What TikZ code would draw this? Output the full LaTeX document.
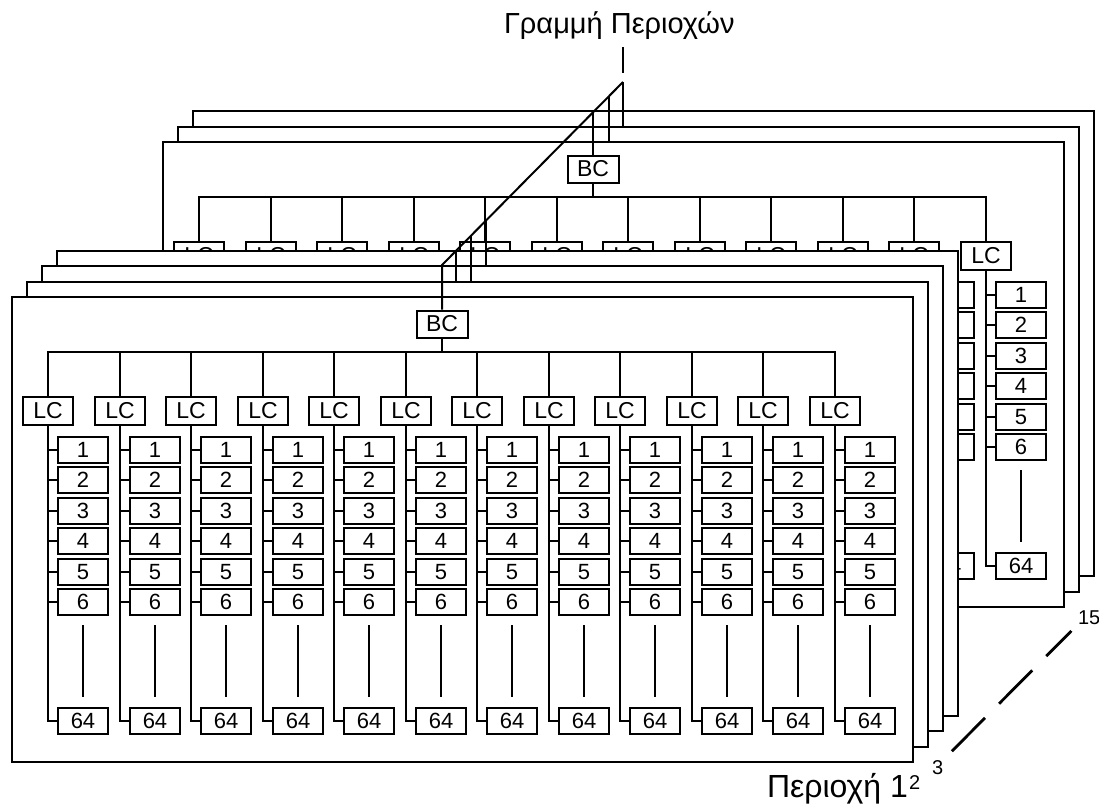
\documentclass[tikz,border=0pt]{standalone}
\usepackage{fontspec}
\setmainfont{Liberation Sans}
\usetikzlibrary{positioning}

\begin{document}
\begin{tikzpicture}[x=1pt,y=-1pt,line width=2pt,
 frame/.style={draw,fill=white},
 unitbox/.style={draw,fill=white,minimum width=50pt,minimum height=26pt,inner sep=0pt,font=\fontsize{22}{22}\selectfont},
 lcbox/.style={unitbox,minimum height=28pt,font=\fontsize{23}{23}\selectfont},
 bcbox/.style={lcbox,minimum width=51pt,minimum height=27pt},
 lbl/.style={inner sep=0pt,anchor=base west}]
 \useasboundingbox (0,0) rectangle (1099,803);
 % back stack (3 sheets), then front stack (4 sheets)
 \foreach \g/\sx/\sy/\nf/\ufirst in {b/151/-155/2/11, f/0/0/3/1}{
  \begin{scope}[shift={(\sx,\sy)}]
   \foreach \k in {\nf,...,0}
    \draw[frame] (12+15*\k,297-15.5*\k) coordinate (\g-fr\k) rectangle ++(901,465);
   \node[bcbox] (\g-bc) at (442,324) {BC};
   \coordinate (\g-bus) at (442,352);
   \draw (\g-bc) -- (\g-bc |- \g-bus);
   \foreach \i in {1,...,12}{
    \pgfmathsetmacro\cx{round(48+71.5*(\i-1))}
    \node[lcbox] (\g-lc\i) at (\cx,411) {LC};
    \ifnum\i<\ufirst\relax\else
     \node[unitbox] (\g-u\i-64) at (\cx+35,721) {64};
     \draw (\g-lc\i) |- (\g-u\i-64);
     \foreach \k/\uy in {1/450,2/480,3/511,4/541,5/572,6/602}{
      \node[unitbox] (\g-u\i-\k) at (\cx+35,\uy) {\k};
      \draw (\g-u\i-\k.west) -- (\g-u\i-\k.west -| \g-lc\i.south);
     }
     \draw[shorten <=9pt,shorten >=10pt] (\g-u\i-6) -- (\g-u\i-64);
    \fi
   }
   \draw (\g-lc1) |- (\g-bus) -| (\g-lc12);
   \foreach \i in {2,...,11} \draw (\g-lc\i) -- (\g-lc\i |- \g-bus);
  \end{scope}
 }
 % region line
 \node[lbl,font=\fontsize{29}{29}\selectfont] (title) at (503,33) {Γραμμή Περιοχών};
 \coordinate (tick-top) at (623,47);
 \coordinate (tick-bot) at (623,73);
 \draw (tick-top) -- (tick-bot);
 \coordinate (apex) at (623,82);
 \coordinate (diag-end) at (442,265);
 \draw (apex) -- (diag-end) -- (f-bc);
 \path (apex) -- (diag-end) coordinate[pos=0.077] (d1) coordinate[pos=0.166] (d2)
  coordinate[pos=0.757] (d3) coordinate[pos=0.84] (d4) coordinate[pos=0.923] (d5);
 \draw (apex) -- (apex |- b-fr1);
 \draw (d1) -- (d1 |- b-fr0);
 \draw (d2) -- (d2 |- b-bc.north);
 \draw (d3) -- (d3 |- f-fr2);
 \draw (d4) -- (d4 |- f-fr1);
 \draw (d5) -- (d5 |- f-fr1);
 % region numbering
 \node[lbl,font=\fontsize{32}{32}\selectfont] (reg1) at (766,797) {Περιοχή 1};
 \node[lbl,font=\fontsize{20}{20}\selectfont] (reg2) at (908,789) {2};
 \node[lbl,font=\fontsize{20}{20}\selectfont] (reg3) at (931,774) {3};
 \node[lbl,font=\fontsize{20}{20}\selectfont] (reg15) at (1077,624) {15};
 \draw[line width=2.8pt,dash pattern=on 47pt off 20pt,shorten <=11pt,shorten >=8pt]
  (reg3.north east) -- (reg15.south west);
\end{tikzpicture}
\end{document}
